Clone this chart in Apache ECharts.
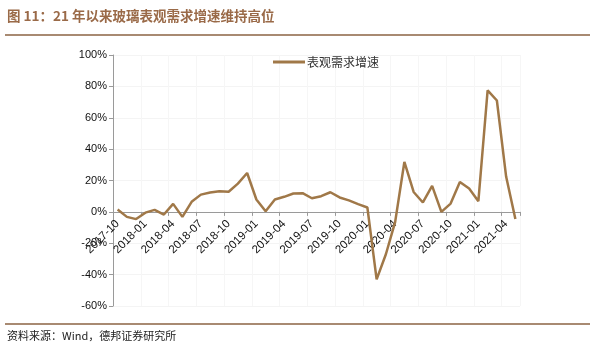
<!DOCTYPE html>
<html>
<head>
<meta charset="utf-8">
<script src="https://cdn.jsdelivr.net/npm/echarts@6/dist/echarts.min.js"></script>
<style>
html,body{margin:0;padding:0;background:#fff;}
#c{width:594px;height:358px;}
</style>
</head>
<body>
<div id="c"></div>
<script>
const titleText = '图 11：21 年以来玻璃表观需求增速维持高位';
const sourceText = '资料来源：Wind，德邦证券研究所';
const seriesName = '表观需求增速';
const categories = [
  '2017-10','2017-11','2017-12',
  '2018-01','2018-02','2018-03','2018-04','2018-05','2018-06','2018-07','2018-08','2018-09','2018-10','2018-11','2018-12',
  '2019-01','2019-02','2019-03','2019-04','2019-05','2019-06','2019-07','2019-08','2019-09','2019-10','2019-11','2019-12',
  '2020-01','2020-02','2020-03','2020-04','2020-05','2020-06','2020-07','2020-08','2020-09','2020-10','2020-11','2020-12',
  '2021-01','2021-02','2021-03','2021-04','2021-05'
];
const values = [
  1.5, -3.2, -4.6,
  -0.5, 1.3, -1.7, 5.1, -3.2, 6.4, 11.0, 12.3, 13.2, 12.8, 18.0, 24.8,
  7.9, 0.4, 7.9, 9.6, 11.7, 11.9, 8.7, 10.0, 12.5, 9.2, 7.3, 4.9,
  2.8, -43.0, -27.0, -6.5, 31.8, 12.7, 6.0, 16.6, 0.0, 5.3, 19.1, 14.9,
  6.8, 77.5, 71.0, 22.5, -4.6
];
const yMin = -60, yMax = 100, yStep = 20;

const gridTop = 55, gridBottom = 52, H = 358;
const plotH = H - gridTop - gridBottom;
const zeroOffset = plotH * (0 - yMin) / (yMax - yMin);

const chart = echarts.init(document.getElementById('c'), null, {renderer:'canvas'});
chart.setOption({
  animation: false,
  backgroundColor: '#fff',
  graphic: [
    {type:'text', left: 7, top: 9, style:{text: titleText, fill:'#9a6a48', font:'bold 13.5px "Noto Sans CJK SC", sans-serif'}},
    {type:'rect', shape:{x:5, y:34, width:585, height:2}, style:{fill:'#a88a72'}},
    {type:'rect', shape:{x:5, y:323, width:585, height:2}, style:{fill:'#a88a72'}},
    {type:'text', left: 7, top: 330, style:{text: sourceText, fill:'#222', font:'11px "Noto Sans CJK SC", sans-serif'}}
  ],
  legend: {
    left: 268, top: 51,
    itemWidth: 32, itemHeight: 3, icon: 'rect', itemGap: 5,
    textStyle: {fontSize: 12, color: '#333', fontFamily: '"Noto Sans CJK SC", sans-serif', padding:[0,0,0,-3]},
    data: [seriesName]
  },
  grid: {left: 113, right: 74, top: gridTop, bottom: gridBottom, containLabel: false},
  xAxis: {
    type: 'category',
    data: categories,
    boundaryGap: true,
    position: 'bottom',
    offset: -zeroOffset,
    axisLine: {onZero: false, lineStyle: {color: '#9a9a9a', width: 1}},
    axisTick: {show: true, interval: 2, length: 4, lineStyle: {color: '#9a9a9a'}},
    axisLabel: {interval: 2, rotate: 45, fontSize: 11.5, color: '#111', fontFamily: 'Liberation Sans, Arial, sans-serif', margin: 10},
    splitLine: {show: true, interval: 2, lineStyle: {color: '#f6f6f6'}}
  },
  yAxis: {
    type: 'value',
    min: yMin, max: yMax, interval: yStep,
    axisLine: {show: true, lineStyle: {color: '#9a9a9a'}},
    axisTick: {show: true, length: 4, lineStyle: {color: '#9a9a9a'}},
    axisLabel: {formatter: '{value}%', fontSize: 11, color: '#111', fontFamily: 'Liberation Sans, Arial, sans-serif', margin: 6},
    splitLine: {show: true, lineStyle: {color: '#f4f4f4'}}
  },
  series: [{
    name: seriesName,
    type: 'line',
    data: values,
    symbol: 'none',
    lineStyle: {color: '#a07848', width: 2.5},
    itemStyle: {color: '#a07848'}
  }]
});
</script>
</body>
</html>
